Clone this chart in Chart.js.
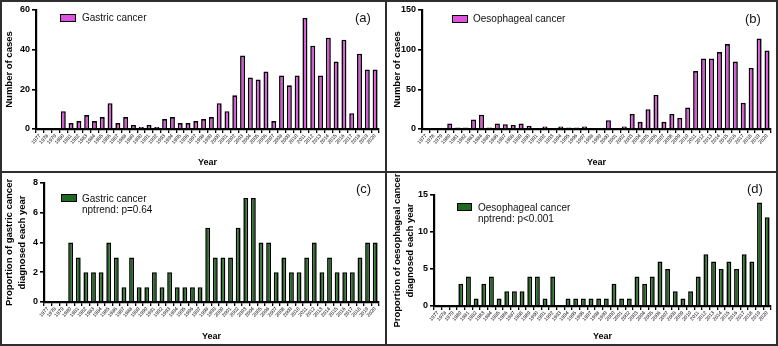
<!DOCTYPE html>
<html>
<head>
<meta charset="utf-8">
<script src="https://cdn.jsdelivr.net/npm/chart.js@4.4.1/dist/chart.umd.min.js"></script>
<style>
  body { margin: 0; background: #fff; font-family: "Liberation Sans", Arial, sans-serif; }
  #wrap { position: relative; width: 778px; height: 346px; overflow: hidden; }
  canvas { position: absolute; }
  .line { position: absolute; background: #2e2e2e; }
  .leg { position: absolute; font-size: 10px; line-height: 11px; color: #111; white-space: nowrap; }
  .sw { position: absolute; box-sizing: border-box; border: 1.5px solid #000; }
  .tag { position: absolute; font-size: 13px; color: #111; }
</style>
</head>
<body>
<div id="wrap">
  <canvas id="ca" width="386" height="171" style="left:0;top:0"></canvas>
  <canvas id="cb" width="389" height="171" style="left:388px;top:0"></canvas>
  <canvas id="cc" width="386" height="173" style="left:0;top:172px"></canvas>
  <canvas id="cd" width="389" height="173" style="left:388px;top:172px"></canvas>

  <!-- panel frames -->
  <div class="line" style="left:0;top:0;width:778px;height:2px"></div>
  <div class="line" style="left:0;top:344px;width:778px;height:2px"></div>
  <div class="line" style="left:0;top:0;width:2px;height:346px"></div>
  <div class="line" style="left:776px;top:0;width:2px;height:346px"></div>
  <div class="line" style="left:385px;top:0;width:2px;height:346px"></div>
  <div class="line" style="left:0;top:171px;width:778px;height:2px"></div>

  <!-- legends -->
  <div class="sw" style="left:60px;top:14px;width:16px;height:8px;background:#de52de"></div>
  <div class="leg" style="left:82px;top:12px">Gastric cancer</div>
  <div class="sw" style="left:452px;top:15px;width:16px;height:8px;background:#de52de"></div>
  <div class="leg" style="left:473px;top:13px">Oesophageal cancer</div>
  <div class="sw" style="left:61px;top:194px;width:16px;height:8px;background:#1f6a1f"></div>
  <div class="leg" style="left:82px;top:193px">Gastric cancer<br>nptrend: p=0.64</div>
  <div class="sw" style="left:457px;top:203px;width:15px;height:8px;background:#1f6a1f"></div>
  <div class="leg" style="left:478px;top:202px">Oesophageal cancer<br>nptrend: p&lt;0.001</div>

  <div class="tag" style="left:355px;top:10px">(a)</div>
  <div class="tag" style="left:745px;top:11px">(b)</div>
  <div class="tag" style="left:356px;top:181px">(c)</div>
  <div class="tag" style="left:747px;top:181px">(d)</div>
</div>
<script>
// x categories
var years = ['1977','1978','1979','1980','1981','1982','1983','1984','1985','1986','1987',
  '1988','1989','1990','1991','1992','1993','1994','1995','1996','1997','1998','1999',
  '2000','2001','2002','2003','2004','2005','2006','2007','2008','2009','2010','2011',
  '2012','2013','2014','2015','2016','2017','2018','2019','2020'];

// (a) number of gastric cancer cases
var gastricCases = [0,0,0,9,3,4,7,4,6,13,3,6,2,1,2,1,5,6,3,3,4,5,6,
  13,9,17,37,26,25,29,4,27,22,27,56,42,27,46,34,45,8,38,30,30];
// (b) number of oesophageal cancer cases
var oesoCases = [0,0,0,7,2,2,12,18,2,7,6,5,7,4,0,3,0,3,2,2,3,0,1,
  11,1,3,19,9,25,43,9,19,14,27,73,89,89,97,107,85,33,77,114,99];
// (c) proportion of gastric cancer diagnosed each year
var gastricProp = [0,0,0,4,3,2,2,2,4,3,1,3,1,1,2,1,2,1,1,1,1,
  5,3,3,3,5,7,7,4,4,2,3,2,2,3,4,2,3,2,2,2,3,4,4];
// (d) proportion of oesophageal cancer diagnosed each year
var oesoProp = [0,0,0,3,4,1,3,4,1,2,2,2,4,4,1,4,0,1,1,1,1,1,1,
  3,1,1,4,3,4,6,5,2,1,2,4,7,6,5,6,5,7,6,14,12];

var PINK = '#de52de';
var GREEN = '#1f6a1f';

function makeChart(id, values, color, yMax, yStep, yTitle, box) {
  var cv = document.getElementById(id);
  var W = cv.width, H = cv.height;
  return new Chart(cv.getContext('2d'), {
    type: 'bar',
    data: {
      labels: years,
      datasets: [{
        data: values,
        backgroundColor: color,
        borderColor: '#000',
        borderWidth: 1.6,
        barPercentage: 0.64,
        categoryPercentage: 1
      }]
    },
    options: {
      responsive: false,
      animation: false,
      layout: { padding: { left: 2, top: box.top, right: W - box.right, bottom: 2 } },
      plugins: { legend: { display: false }, tooltip: { enabled: false } },
      scales: {
        x: {
          grid: { display: true, drawOnChartArea: false, drawTicks: true, tickLength: 4, color: '#000', lineWidth: 1.3 },
          border: { color: '#000', width: 2.2 },
          ticks: { color: '#000', font: { size: 5, family: 'Liberation Sans' }, minRotation: 48, maxRotation: 48, autoSkip: false, padding: 0 },
          title: { display: true, text: 'Year', color: '#000', font: { size: 9, weight: 'bold', family: 'Liberation Sans' }, padding: { top: 0, bottom: box.yearPad } },
          afterFit: function (s) { s.height = H - 2 - box.bottom; }
        },
        y: {
          min: 0, max: yMax,
          grid: { display: true, drawOnChartArea: false, drawTicks: true, tickLength: 4, color: '#000', lineWidth: 1.6 },
          border: { color: '#000', width: 2.2 },
          ticks: { stepSize: yStep, color: '#000', font: { size: 9, weight: 'bold', family: 'Liberation Sans' }, padding: 2 },
          title: { display: true, text: yTitle, color: '#000', font: { size: 9.5, weight: 'bold', family: 'Liberation Sans', lineHeight: 1.45 }, padding: { top: box.titlePad, bottom: 0 } },
          afterFit: function (s) { s.width = box.left - 2; }
        }
      }
    }
  });
}

makeChart('ca', gastricCases, PINK, 60, 20, 'Number of cases',
  { left: 36, right: 379, top: 10, bottom: 129, yearPad: 1, titlePad: 0 });
makeChart('cb', oesoCases, PINK, 150, 50, 'Number of cases',
  { left: 34, right: 383, top: 10, bottom: 129, yearPad: 1, titlePad: 0 });
makeChart('cc', gastricProp, GREEN, 8, 2, ['Proportion of gastric cancer', 'diagnosed each year'],
  { left: 44, right: 379, top: 11, bottom: 130, yearPad: 1, titlePad: 0 });
makeChart('cd', oesoProp, GREEN, 15, 5, ['Proportion of oesophageal cancer', 'diagnosed each year'],
  { left: 46, right: 383, top: 23, bottom: 134, yearPad: 1, titlePad: 0 });
</script>
</body>
</html>
